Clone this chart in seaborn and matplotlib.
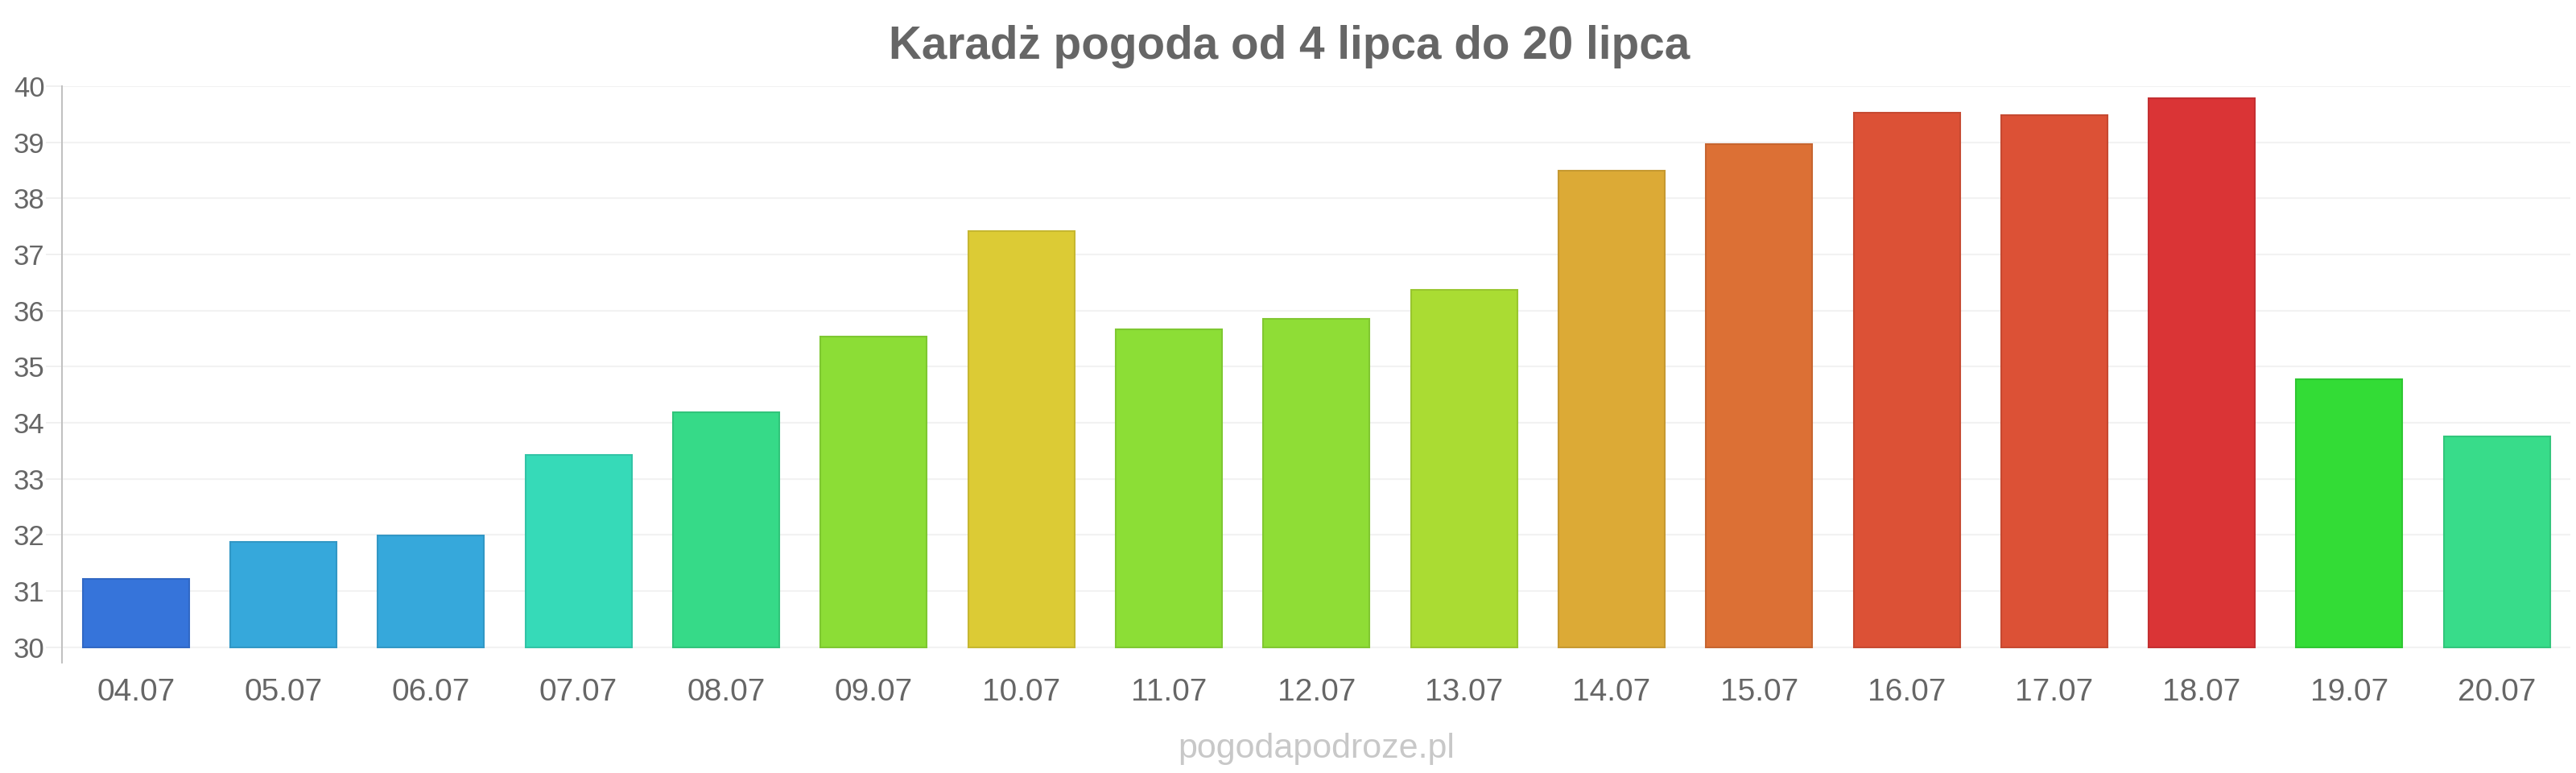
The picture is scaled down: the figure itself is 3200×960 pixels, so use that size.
import matplotlib
matplotlib.use("Agg")
import matplotlib.pyplot as plt
import matplotlib.colors as mcolors
import seaborn as sns
import pandas as pd

# ---- data ----
days = ["04.07", "05.07", "06.07", "07.07", "08.07", "09.07", "10.07", "11.07", "12.07",
        "13.07", "14.07", "15.07", "16.07", "17.07", "18.07", "19.07", "20.07"]
temps = [31.22, 31.88, 31.99, 33.42, 34.18, 35.53, 37.42, 35.66, 35.85,
         36.37, 38.50, 38.97, 39.52, 39.48, 39.78, 34.77, 33.76]
bar_colors = ["#3674da", "#36a8db", "#36a8db", "#36dab8", "#36da88", "#8cdd36", "#dccb35",
              "#8cde36", "#8fdd36", "#aadc33", "#dcaa36", "#dc7035", "#dc5136", "#dc5136",
              "#da3436", "#33dc36", "#38dc8a"]
y_ticks = [30, 31, 32, 33, 34, 35, 36, 37, 38, 39, 40]
title = "Karadż pogoda od 4 lipca do 20 lipca"
watermark = "pogodapodroze.pl"

sns.set_theme(style="white")
plt.rcParams["font.family"] = ["Liberation Sans", "DejaVu Sans"]

df = pd.DataFrame({"day": days, "temp": temps})

fig = plt.figure(figsize=(32, 9.6), dpi=100)
ax = fig.add_axes([0.02406, 0.1427, 0.9739, 0.7458])

sns.barplot(data=df, x="day", y="temp", hue="day", palette=bar_colors,
            legend=False, width=0.72, ax=ax, saturation=1, zorder=3)

base = 30
for p, c in zip(ax.patches, bar_colors):
    h = p.get_height()
    p.set_y(base)
    p.set_height(h - base)
    rgb = mcolors.to_rgb(c)
    p.set_facecolor(rgb)
    p.set_edgecolor(tuple(v * 0.9 for v in rgb))
    p.set_linewidth(1.5)

ax.set_xlim(-0.5, len(days) - 0.5)
ax.set_ylim(29.72, 40)
ax.set_yticks(y_ticks)
ax.set_yticklabels([str(t) for t in y_ticks])
ax.yaxis.grid(True, color="#f2f2f2", linewidth=1.5, zorder=0)
ax.xaxis.grid(False)
ax.set_axisbelow(True)

for s in ["top", "right", "bottom"]:
    ax.spines[s].set_visible(False)
ax.spines["left"].set_color("#c0c0c0")
ax.spines["left"].set_linewidth(1.4)

ax.tick_params(axis="y", which="both", left=True, length=14.4, width=1.2,
               color="#eeeeee", pad=1, labelsize=25, labelcolor="#666666")
ax.tick_params(axis="x", bottom=False, pad=8, labelsize=28, labelcolor="#666666")
ax.set_xlabel("")
ax.set_ylabel("")

fig.text(1602 / 3200, 1 - 73 / 960, title, ha="center", va="baseline",
         fontsize=40.8, fontweight="bold", color="#666666")
fig.text(1635 / 3200, 1 - 941 / 960, watermark, ha="center", va="baseline",
         fontsize=31, color="#c8c8c8")

fig.savefig("out.png", dpi=100, facecolor="white")
